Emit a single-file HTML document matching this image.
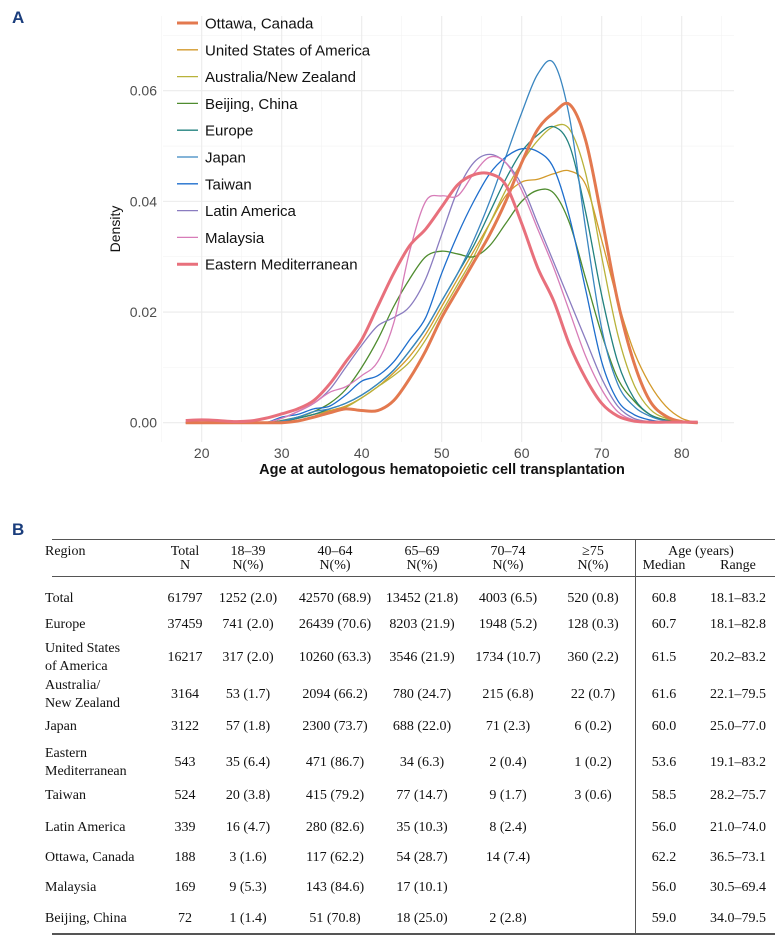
<!DOCTYPE html>
<html><head><meta charset="utf-8">
<style>
body{margin:0;background:#fff;width:778px;height:942px;overflow:hidden;position:relative;font-family:"Liberation Sans",sans-serif}
.panel-letter{position:absolute;font-weight:bold;color:#1a3d7c;font-size:17px}
#tbl{position:absolute;left:0;top:0;width:778px;height:942px;font-family:"Liberation Serif",serif;font-size:14px;color:#111}
#tbl div.c{position:absolute;white-space:nowrap;line-height:17px}
.hl{position:absolute;background:#555}
</style></head><body>
<div class="panel-letter" style="left:12px;top:8px">A</div>
<div class="panel-letter" style="left:12px;top:520px">B</div>
<svg id="chart" width="778" height="500" style="position:absolute;left:0;top:0"></svg>
<div id="tbl"></div>
<script>
const ages=[18,20,22,24,26,28,30,32,34,36,38,40,42,44,46,48,50,52,54,56,58,60,62,64,66,68,70,72,74,76,78,80,82];
const seriesNames=["Ottawa, Canada","United States of America","Australia/New Zealand","Beijing, China","Europe","Japan","Taiwan","Latin America","Malaysia","Eastern Mediterranean"];
const ottawa=[0,0,0,0,0,0,0,0.0003,0.001,0.0018,0.0025,0.0022,0.0022,0.004,0.008,0.013,0.019,0.024,0.029,0.034,0.040,0.047,0.053,0.056,0.0575,0.051,0.037,0.022,0.011,0.004,0.0012,0.0002,0];
const usa=[0,0,0,0,0,0,0.0002,0.0008,0.0015,0.0022,0.003,0.0045,0.0065,0.009,0.012,0.016,0.021,0.026,0.031,0.036,0.041,0.0435,0.044,0.045,0.0455,0.043,0.033,0.022,0.013,0.007,0.003,0.0008,0];
const ausnz=[0,0,0,0,0,0,0.0002,0.0008,0.0015,0.002,0.0028,0.0045,0.0065,0.0085,0.011,0.015,0.020,0.025,0.030,0.036,0.042,0.047,0.051,0.0535,0.053,0.045,0.030,0.016,0.007,0.0025,0.0008,0.0002,0];
const beijing=[0,0,0,0,0,0,0.0004,0.001,0.002,0.0035,0.006,0.010,0.015,0.021,0.026,0.030,0.031,0.0305,0.030,0.032,0.036,0.040,0.042,0.0415,0.036,0.026,0.016,0.008,0.004,0.0015,0.0005,0.0001,0];
const europe=[0,0,0,0,0,0,0.0002,0.0008,0.0015,0.0025,0.0035,0.005,0.007,0.0095,0.013,0.017,0.022,0.027,0.032,0.038,0.044,0.049,0.052,0.0535,0.050,0.038,0.023,0.011,0.0045,0.0015,0.0004,0.0001,0];
const japan=[0,0,0,0,0,0,0.0003,0.001,0.002,0.0025,0.0035,0.005,0.007,0.0095,0.013,0.017,0.022,0.027,0.033,0.040,0.048,0.056,0.063,0.065,0.055,0.035,0.017,0.007,0.003,0.0012,0.0003,0,0];
const taiwan=[0,0,0,0,0,0,0.001,0.0015,0.0025,0.003,0.005,0.0075,0.0085,0.011,0.015,0.019,0.027,0.034,0.040,0.045,0.048,0.0495,0.049,0.046,0.037,0.024,0.011,0.004,0.0015,0.0005,0.0001,0,0];
const latin=[0,0,0,0,0,0,0.0008,0.002,0.0035,0.006,0.010,0.014,0.0175,0.019,0.021,0.026,0.034,0.042,0.047,0.0485,0.047,0.043,0.036,0.029,0.022,0.015,0.008,0.003,0.0008,0.0002,0,0,0];
const malaysia=[0,0,0,0,0,0,0.0008,0.002,0.0035,0.0055,0.0065,0.0085,0.011,0.018,0.031,0.040,0.041,0.041,0.045,0.048,0.047,0.042,0.035,0.028,0.020,0.012,0.006,0.002,0.0005,0.0001,0,0,0];
const eastMed=[0.0004,0.0005,0.0004,0.0002,0.0003,0.0008,0.0016,0.0025,0.004,0.007,0.011,0.015,0.021,0.027,0.032,0.035,0.039,0.043,0.0448,0.045,0.043,0.036,0.028,0.022,0.014,0.008,0.0035,0.0012,0.0003,0.0001,0.0001,0.0001,0.0001];
const xTicks=[20,30,40,50,60,70,80];
const yTicks=[0,0.02,0.04,0.06];
const yTickLabels=["0.00","0.02","0.04","0.06"];

const NS="http://www.w3.org/2000/svg";
const svg=document.getElementById('chart');
const X=a=>201.7+(a-20)*8;
const Y=d=>422.7-d*5533;
const L=163,R=734,T=16,B=442;
function mk(t,at){const e=document.createElementNS(NS,t);for(const k in at)e.setAttribute(k,at[k]);svg.appendChild(e);return e;}
// grid
[15,25,35,45,55,65,75,85].forEach(v=>{const g=mk('line',{x1:X(v),x2:X(v),y1:T,y2:B,stroke:'#f3f3f3','stroke-width':0.6});

});
[0.01,0.03,0.05,0.07].forEach(v=>{const g=mk('line',{x1:L,x2:R,y1:Y(v),y2:Y(v),stroke:'#f3f3f3','stroke-width':0.6});

});
xTicks.forEach(v=>{const g=mk('line',{x1:X(v),x2:X(v),y1:T,y2:B,stroke:'#ebebeb','stroke-width':1.1});


const t=mk('text',{x:X(v),y:458,'text-anchor':'middle','font-size':14,fill:'#4d4d4d'});t.textContent=v;

});
yTicks.forEach((v,i)=>{const g=mk('line',{x1:L,x2:R,y1:Y(v),y2:Y(v),stroke:'#ebebeb','stroke-width':1.1});


const t=mk('text',{x:157,y:Y(v)+5,'text-anchor':'end','font-size':14,fill:'#4d4d4d'});t.textContent=yTickLabels[i];

});
const xt=mk('text',{x:442,y:474,'text-anchor':'middle','font-size':14.5,'font-weight':'bold',fill:'#111'});xt.textContent='Age at autologous hematopoietic cell transplantation';


const yt=mk('text',{x:0,y:0,'text-anchor':'middle','font-size':14,fill:'#111',transform:'translate(120,229) rotate(-90)'});yt.textContent='Density';



const data=[ottawa,usa,ausnz,beijing,europe,japan,taiwan,latin,malaysia,eastMed];
const colors=['#e3794f','#d39a2b','#b8b23a','#4f8c2f','#23827f','#3a86c0','#1e6ecd','#8a7cc0','#d77cb8','#e8707c'];
const widths=[3,1.3,1.3,1.3,1.3,1.3,1.3,1.3,1.3,3];
function path(vals){const p=ages.map((a,i)=>[X(a),Y(vals[i])]);let d=`M${p[0][0]},${p[0][1]}`;
for(let i=0;i<p.length-1;i++){const p0=p[Math.max(i-1,0)],p1=p[i],p2=p[i+1],p3=p[Math.min(i+2,p.length-1)];
d+=` C${p1[0]+(p2[0]-p0[0])/6},${p1[1]+(p2[1]-p0[1])/6} ${p2[0]-(p3[0]-p1[0])/6},${p2[1]-(p3[1]-p1[1])/6} ${p2[0]},${p2[1]}`;}return d;}
const order=[1,2,3,4,5,6,7,8,0,9];
order.forEach(i=>{const e=mk('path',{d:path(data[i]),fill:'none',stroke:colors[i],'stroke-width':widths[i],'stroke-linejoin':'round'});

});
seriesNames.forEach((n,i)=>{const y=23+i*26.8;
const l=mk('line',{x1:177,x2:198,y1:y,y2:y,stroke:colors[i],'stroke-width':widths[i]});


const t=mk('text',{x:205,y:y+5.5,'font-size':15,fill:'#111'});t.textContent=n;

});

// table
const tbl=document.getElementById('tbl');
function cell(txt,x,y,align,name){const d=document.createElement('div');d.className='c';d.innerHTML=txt;


d.style.top=(y-8.5)+'px';
if(align==='l')d.style.left=x+'px';else{d.style.left=(x-60)+'px';d.style.width='120px';d.style.textAlign='center';}
tbl.appendChild(d);}
function line(x,y,w,h,name){const d=document.createElement('div');d.className='hl';d.style.left=x+'px';d.style.top=y+'px';d.style.width=w+'px';d.style.height=h+'px';


tbl.appendChild(d);}
const colX=[185,248,335,422,508,593,664,738];
line(52,539,723,1,'table-top-rule');line(52,576,723,1,'header-rule');line(52,933,723,1.5,'table-bottom-rule');line(635,539,1,394,'age-column-divider');
cell('Region',45,551,'l','header-region');
const h1=['Total','18–39','40–64','65–69','70–74','≥75'];const h2=['N','N(%)','N(%)','N(%)','N(%)','N(%)'];
h1.forEach((h,i)=>{cell(h,colX[i],551,'c','header-cell');cell(h2[i],colX[i],565,'c','header-cell');});
cell('Age (years)',701,551,'c','header-age');cell('Median',664,565,'c','header-median');cell('Range',738,565,'c','header-range');
const rows=[
[['Total'],598,['61797','1252 (2.0)','42570 (68.9)','13452 (21.8)','4003 (6.5)','520 (0.8)','60.8','18.1–83.2']],
[['Europe'],624,['37459','741 (2.0)','26439 (70.6)','8203 (21.9)','1948 (5.2)','128 (0.3)','60.7','18.1–82.8']],
[['United States','of America'],657,['16217','317 (2.0)','10260 (63.3)','3546 (21.9)','1734 (10.7)','360 (2.2)','61.5','20.2–83.2']],
[['Australia/','New Zealand'],694,['3164','53 (1.7)','2094 (66.2)','780 (24.7)','215 (6.8)','22 (0.7)','61.6','22.1–79.5']],
[['Japan'],726,['3122','57 (1.8)','2300 (73.7)','688 (22.0)','71 (2.3)','6 (0.2)','60.0','25.0–77.0']],
[['Eastern','Mediterranean'],762,['543','35 (6.4)','471 (86.7)','34 (6.3)','2 (0.4)','1 (0.2)','53.6','19.1–83.2']],
[['Taiwan'],795,['524','20 (3.8)','415 (79.2)','77 (14.7)','9 (1.7)','3 (0.6)','58.5','28.2–75.7']],
[['Latin America'],827,['339','16 (4.7)','280 (82.6)','35 (10.3)','8 (2.4)','','56.0','21.0–74.0']],
[['Ottawa, Canada'],857,['188','3 (1.6)','117 (62.2)','54 (28.7)','14 (7.4)','','62.2','36.5–73.1']],
[['Malaysia'],887,['169','9 (5.3)','143 (84.6)','17 (10.1)','','','56.0','30.5–69.4']],
[['Beijing, China'],918,['72','1 (1.4)','51 (70.8)','18 (25.0)','2 (2.8)','','59.0','34.0–79.5']]];
rows.forEach(r=>{const [lab,y,vals]=r;
if(lab.length===1)cell(lab[0],45,y,'l','row-label');else{cell(lab[0],45,y-9,'l','row-label');cell(lab[1],45,y+9,'l','row-label');}
vals.forEach((v,i)=>{if(v)cell(v,colX[i],y,'c','table-cell');});});
</script>
</body></html>
